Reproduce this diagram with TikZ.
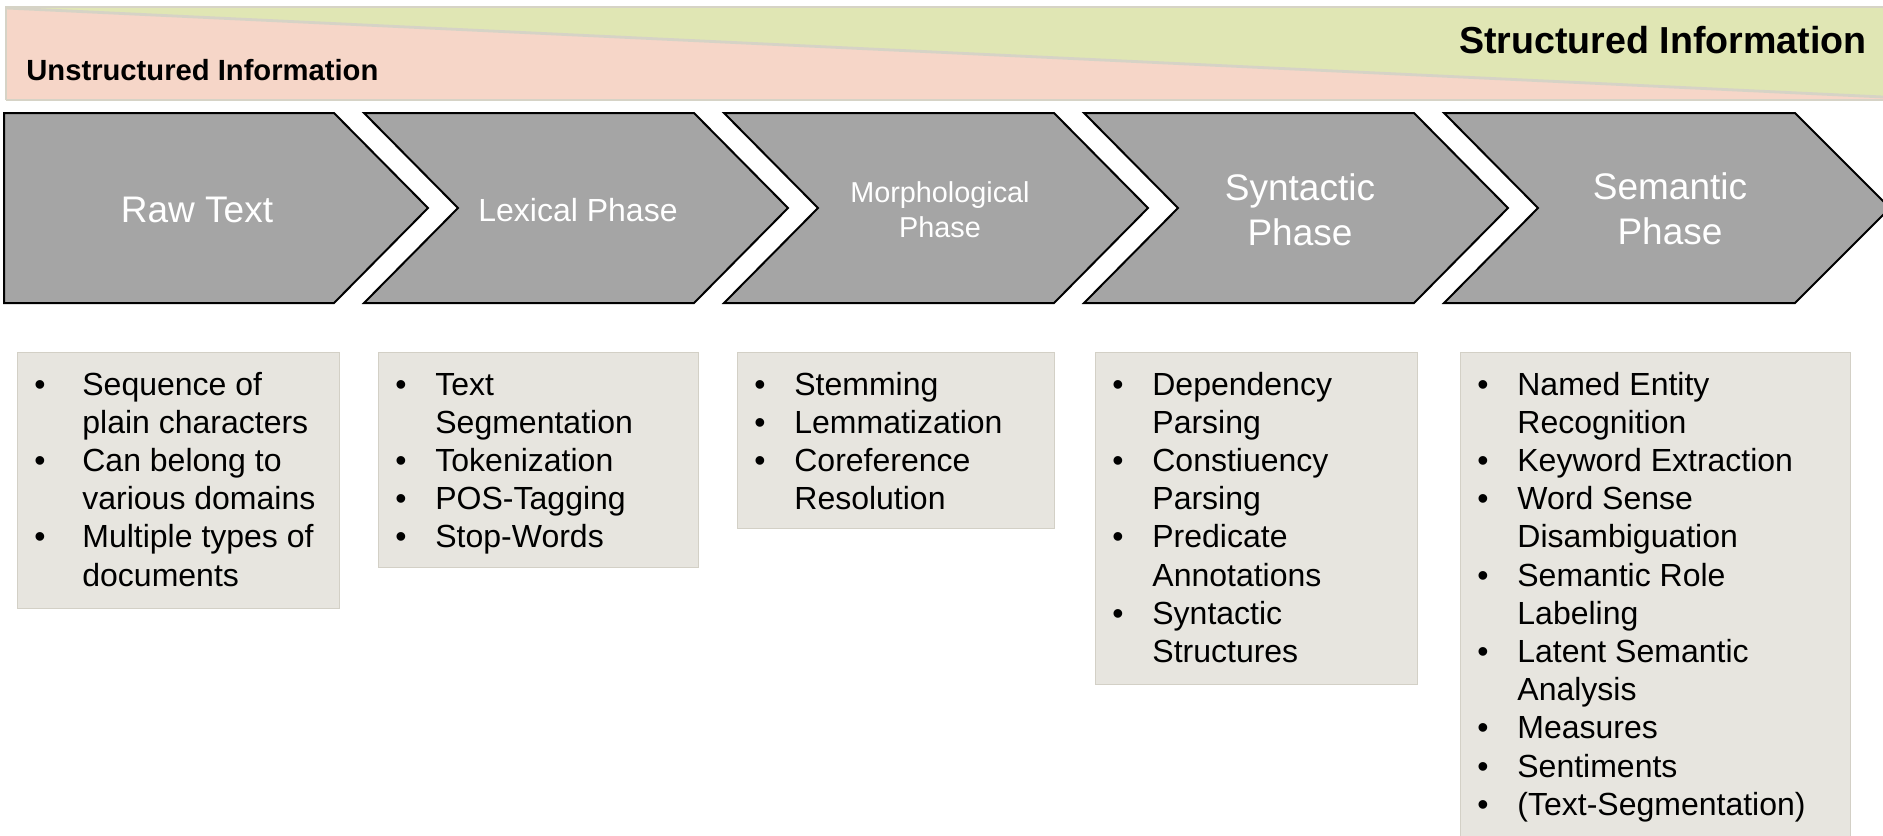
\documentclass[tikz,border=0pt]{standalone}
\usepackage{fontspec}
\setmainfont{Liberation Sans}
\usepackage{array}
\definecolor{pinkband}{HTML}{F6D6C8}
\definecolor{greenband}{HTML}{E0E6B4}
\definecolor{bandline}{HTML}{D6D3C6}
\definecolor{chevgray}{HTML}{A5A5A5}
\definecolor{boxfill}{HTML}{E7E5DF}
\definecolor{boxline}{HTML}{D3D0C6}
\tikzset{
  chev/.style={fill=chevgray, draw=black, line width=1pt, line join=miter},
  chevlabel/.style={text=white, align=center, inner sep=0pt},
  infobox/.style={fill=boxfill, draw=boxline, line width=0.6pt, anchor=north west, inner sep=0pt, rectangle},
  infotext/.style={anchor=base west, inner sep=0pt, font=\fontsize{16}{19.1}\selectfont},
  bandtitle/.style={inner sep=0pt, font=\bfseries},
}
\newcommand{\blist}[2]{\begin{tabular}[t]{@{}p{#1}@{}l@{}}#2\end{tabular}}
\begin{document}
\begin{tikzpicture}[x=0.5pt,y=-0.5pt]
\useasboundingbox (0,0) rectangle (1883,835);
\clip (0,0) rectangle (1883,835);
\fill[white] (0,0) rectangle (1883,835);
% banner
\fill[pinkband] (6,8) -- (1883,97) -- (1883,100) -- (6,100) -- cycle;
\fill[greenband] (6,7) -- (1883,7) -- (1883,97) -- (6,8) -- cycle;
\draw[bandline, line width=0.6pt] (6,100) -- (6,7) -- (1883,7);
\draw[bandline, line width=1pt] (6,100) -- (1883,100);
\draw[bandline, line width=1.4pt] (6,8) -- (1883,97);
\node[bandtitle, anchor=west, font=\bfseries\fontsize{14.6}{16}\selectfont] (unstr) at (26,70) {Unstructured Information};
\node[bandtitle, anchor=east, font=\bfseries\fontsize{18.8}{20}\selectfont] (str) at (1867,40) {Structured Information};
% chevrons
\draw[chev] (4,113) -- (334,113) -- (428,208) -- (334,303) -- (4,303) -- cycle;
\draw[chev] (364,113) -- (694,113) -- (788,208) -- (694,303) -- (364,303) -- (458,208) -- cycle;
\draw[chev] (724,113) -- (1054,113) -- (1148,208) -- (1054,303) -- (724,303) -- (818,208) -- cycle;
\draw[chev] (1084,113) -- (1414,113) -- (1508,208) -- (1414,303) -- (1084,303) -- (1178,208) -- cycle;
\draw[chev] (1444,113) -- (1795,113) -- (1890,208) -- (1795,303) -- (1444,303) -- (1538,208) -- cycle;
\node[chevlabel, font=\fontsize{18.5}{22.5}\selectfont] (raw) at (197,210) {Raw Text};
\node[chevlabel, font=\fontsize{16}{19}\selectfont] (lex) at (578,210) {Lexical Phase};
\node[chevlabel, font=\fontsize{14.4}{17.5}\selectfont] (mor) at (940,210) {Morphological\\Phase};
\node[chevlabel, font=\fontsize{18.5}{22.5}\selectfont] (syn) at (1300,210) {Syntactic\\Phase};
\node[chevlabel, font=\fontsize{18.5}{22.5}\selectfont] (sem) at (1670,209) {Semantic\\Phase};
% boxes
\node[infobox, minimum width=161pt, minimum height=128pt] (b1) at (17,352) {};
\node[infobox, minimum width=160pt, minimum height=107.5pt] (b2) at (378,352) {};
\node[infobox, minimum width=158.5pt, minimum height=88pt] (b3) at (737,352) {};
\node[infobox, minimum width=161pt, minimum height=166pt] (b4) at (1095,352) {};
\node[infobox, minimum width=195pt, minimum height=260pt] (b5) at (1460,352) {};
\node[infotext] (t1) at (34,395) {\blist{24pt}{• & Sequence of\\ & plain characters\\ • & Can belong to\\ & various domains\\ • & Multiple types of\\ & documents}};
\node[infotext] (t2) at (395,395) {\blist{20pt}{• & Text\\ & Segmentation\\ • & Tokenization\\ • & POS-Tagging\\ • & Stop-Words}};
\node[infotext] (t3) at (754,395) {\blist{20pt}{• & Stemming\\ • & Lemmatization\\ • & Coreference\\ & Resolution}};
\node[infotext] (t4) at (1112,395) {\blist{20pt}{• & Dependency\\ & Parsing\\ • & Constiuency\\ & Parsing\\ • & Predicate\\ & Annotations\\ • & Syntactic\\ & Structures}};
\node[infotext] (t5) at (1477,395) {\blist{20pt}{• & Named Entity\\ & Recognition\\ • & Keyword Extraction\\ • & Word Sense\\ & Disambiguation\\ • & Semantic Role\\ & Labeling\\ • & Latent Semantic\\ & Analysis\\ • & Measures\\ • & Sentiments\\ • & (Text-Segmentation)}};
\end{tikzpicture}
\end{document}
